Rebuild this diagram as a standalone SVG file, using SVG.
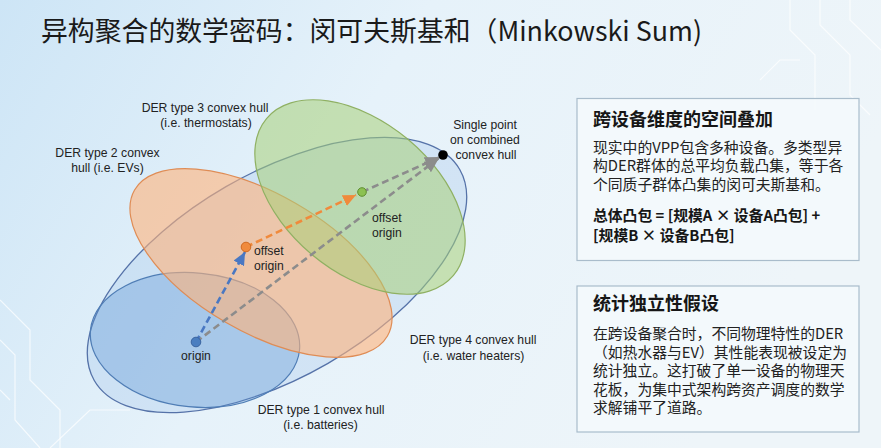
<svg xmlns="http://www.w3.org/2000/svg" width="881" height="448" viewBox="0 0 881 448">
<defs>
<linearGradient id="bg" x1="0" y1="0" x2="1" y2="0.3">
<stop offset="0" stop-color="#cde5f6"/>
<stop offset="0.45" stop-color="#e6f2fa"/>
<stop offset="1" stop-color="#eef5f9"/>
</linearGradient>
<marker id="ah-blue" markerUnits="userSpaceOnUse" markerWidth="13" markerHeight="12" refX="13" refY="6" orient="auto"><path d="M0,0 L13,6 L0,12 z" fill="#4a78c2"/></marker>
<marker id="ah-orange" markerUnits="userSpaceOnUse" markerWidth="13" markerHeight="12" refX="13" refY="6" orient="auto"><path d="M0,0 L13,6 L0,12 z" fill="#f08a3c"/></marker>
<marker id="ah-gray" markerUnits="userSpaceOnUse" markerWidth="15" markerHeight="13" refX="15" refY="6.5" orient="auto"><path d="M0,0 L15,6.5 L0,13 z" fill="#8c8c8c"/></marker>
</defs>
<style>
.lbl{font-family:"Liberation Sans",Arial,sans-serif;font-size:12.2px;fill:#222}
.c{text-anchor:middle}
.title{font-family:"Noto Sans CJK SC","Noto Sans",sans-serif;font-size:27px;fill:#1a1a1a}
.ph{font-family:"Noto Sans CJK SC","Noto Sans",sans-serif;font-size:18px;font-weight:bold;fill:#161616}
.pb{font-family:"Noto Sans CJK SC","Noto Sans",sans-serif;font-size:14.8px;fill:#222}
.pbb{font-family:"Noto Sans CJK SC","Noto Sans",sans-serif;font-size:14.8px;font-weight:bold;fill:#161616}
.panel{fill:#f4f9fc;fill-opacity:0.88;stroke:#a9bccb;stroke-width:1.2}
.dash{fill:none;stroke-width:2.6;stroke-dasharray:7 4}
.deco{fill:none;stroke:#ffffff;stroke-opacity:0.7;stroke-width:1.2}
</style>
<rect width="881" height="448" fill="url(#bg)"/>
<g class="deco">
<path d="M790,0 L790,30 L815,55 L815,110"/>
<path d="M820,0 L820,25 L850,55 L850,95 L870,115"/>
<path d="M850,0 L850,20 L881,50"/>
<path d="M760,80 L780,60 L800,60"/>
<path d="M0,300 L30,330 L30,380 L60,410 L60,448"/>
<path d="M0,340 L15,355 L15,420 L40,448"/>
<path d="M50,448 L90,410 L130,410"/>
<path d="M0,390 L10,400"/>
</g>
<text class="title" x="41" y="41" textLength="661" lengthAdjust="spacingAndGlyphs">异构聚合的数学密码：闵可夫斯基和（Minkowski Sum)</text>

<g id="der4"><ellipse cx="277" cy="275" rx="211" ry="102" transform="rotate(-30 277 275)" fill="#a9c9ea" fill-opacity="0.35" stroke="#5572a8" stroke-width="1.3"/></g>
<g id="der1"><ellipse cx="195" cy="340" rx="105" ry="67" transform="rotate(5.5 195 340)" fill="#5d95d3" fill-opacity="0.35" stroke="#4f7db5" stroke-width="1.2"/></g>
<g id="der2"><ellipse cx="261" cy="263" rx="146" ry="69" transform="rotate(30 261 263)" fill="#ffb27a" fill-opacity="0.6" stroke="#df8c55" stroke-width="1.2"/></g>
<g id="der3"><ellipse cx="360" cy="197" rx="122" ry="75" transform="rotate(40 360 197)" fill="#a8d078" fill-opacity="0.55" stroke="#8fb062" stroke-width="1.2"/></g>

<g id="connectors">
<line class="dash" x1="196" y1="342" x2="439" y2="158" stroke="#8c8c8c" marker-end="url(#ah-gray)"/>
<line class="dash" x1="362" y1="192" x2="440" y2="157" stroke="#8c8c8c" marker-end="url(#ah-gray)"/>
<line class="dash" x1="196" y1="342" x2="245" y2="252" stroke="#4a78c2" marker-end="url(#ah-blue)"/>
<line class="dash" x1="246" y1="247" x2="356" y2="195" stroke="#f08a3c" marker-end="url(#ah-orange)"/>
</g>

<g id="origin"><circle cx="196" cy="342" r="4.8" fill="#4a7ec0" stroke="#3a64a0" stroke-width="1"/><text class="lbl c" x="196" y="359.5">origin</text></g>
<g id="offset1"><circle cx="246" cy="247" r="4.8" fill="#f08a3c" stroke="#d06a20" stroke-width="1"/><text class="lbl" x="254" y="255">offset</text><text class="lbl" x="254" y="269.5">origin</text></g>
<g id="offset2"><circle cx="362" cy="192" r="4.3" fill="#8cc152" stroke="#5f8f30" stroke-width="1"/><text class="lbl" x="372" y="221.5">offset</text><text class="lbl" x="372" y="236.5">origin</text></g>
<g id="single"><circle cx="443" cy="155" r="4.8" fill="#000"/><text class="lbl c" x="485" y="129">Single point</text><text class="lbl c" x="485" y="144">on combined</text><text class="lbl c" x="486" y="159">convex hull</text></g>

<g id="label3"><text class="lbl c" x="205" y="111.5">DER type 3 convex hull</text><text class="lbl c" x="206" y="126.5">(i.e. thermostats)</text></g>
<g id="label2"><text class="lbl c" x="107.5" y="157">DER type 2 convex</text><text class="lbl c" x="107.5" y="172">hull (i.e. EVs)</text></g>
<g id="label4"><text class="lbl c" x="473" y="343.5">DER type 4 convex hull</text><text class="lbl c" x="473.5" y="359.5">(i.e. water heaters)</text></g>
<g id="label1"><text class="lbl c" x="321" y="413.5">DER type 1 convex hull</text><text class="lbl c" x="320.5" y="429">(i.e. batteries)</text></g>

<g id="panel1">
<rect class="panel" x="577" y="98.5" width="282" height="162"/>
<text class="ph" x="593" y="126">跨设备维度的空间叠加</text>
<text class="pb" x="593" y="152.5">现实中的VPP包含多种设备。多类型异</text>
<text class="pb" x="593" y="171">构DER群体的总平均负载凸集，等于各</text>
<text class="pb" x="593" y="189.5">个同质子群体凸集的闵可夫斯基和。</text>
<text class="pbb" x="593" y="221">总体凸包 = [规模A × 设备A凸包] +</text>
<text class="pbb" x="593" y="241">[规模B × 设备B凸包]</text>
</g>
<g id="panel2">
<rect class="panel" x="577" y="286" width="282" height="146"/>
<text class="ph" x="593" y="310">统计独立性假设</text>
<text class="pb" x="593" y="339">在跨设备聚合时，不同物理特性的DER</text>
<text class="pb" x="593" y="357.5">（如热水器与EV）其性能表现被设定为</text>
<text class="pb" x="593" y="376">统计独立。这打破了单一设备的物理天</text>
<text class="pb" x="593" y="394.5">花板，为集中式架构跨资产调度的数学</text>
<text class="pb" x="593" y="413">求解铺平了道路。</text>
</g>
</svg>
